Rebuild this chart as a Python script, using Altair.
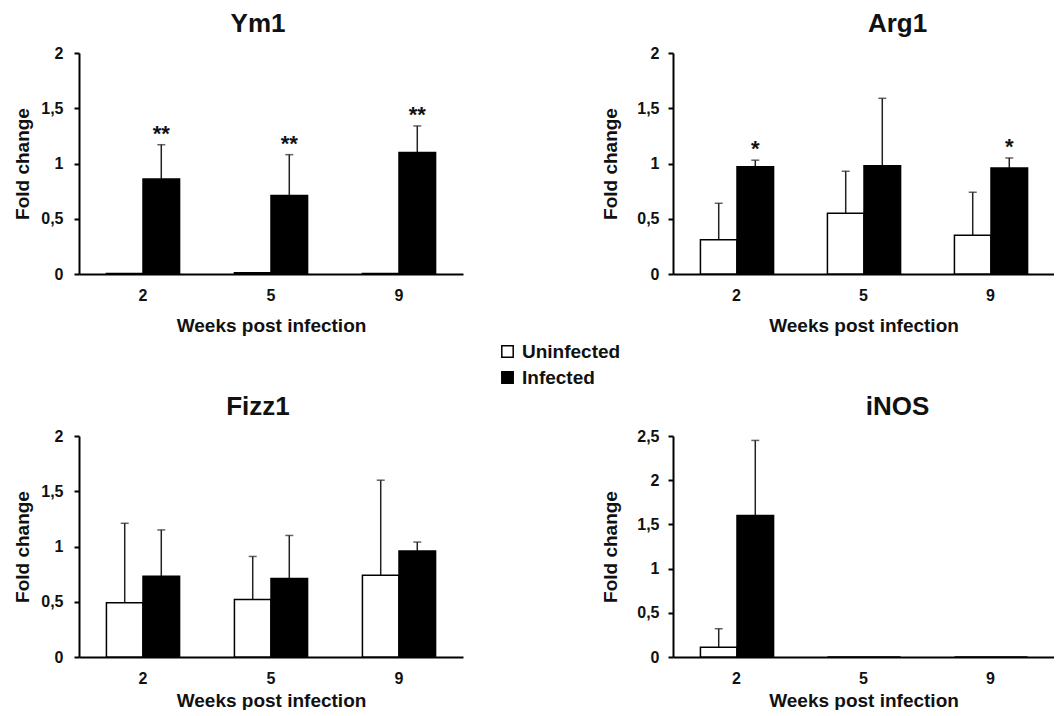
import altair as alt
import pandas as pd

FONT = "Liberation Sans"

weeks = ["2", "5", "9"]
groups = ["Uninfected", "Infected"]

ym1_uninf = [0.005, 0.012, 0.004]
ym1_uninf_err = [0.0, 0.0, 0.0]
ym1_inf = [0.86, 0.71, 1.10]
ym1_inf_err = [0.31, 0.37, 0.24]
ym1_sig = ["**", "**", "**"]

arg1_uninf = [0.31, 0.55, 0.35]
arg1_uninf_err = [0.33, 0.38, 0.39]
arg1_inf = [0.97, 0.98, 0.96]
arg1_inf_err = [0.06, 0.61, 0.09]
arg1_sig = ["*", "", "*"]

fizz1_uninf = [0.49, 0.52, 0.74]
fizz1_uninf_err = [0.72, 0.39, 0.86]
fizz1_inf = [0.73, 0.71, 0.96]
fizz1_inf_err = [0.42, 0.39, 0.08]
fizz1_sig = ["", "", ""]

inos_uninf = [0.11, 0.0, 0.0]
inos_uninf_err = [0.21, 0.0, 0.0]
inos_inf = [1.60, 0.0, 0.0]
inos_inf_err = [0.85, 0.0, 0.0]
inos_sig = ["", "", ""]

ticks_2 = [0, 0.5, 1, 1.5, 2]
ticks_25 = [0, 0.5, 1, 1.5, 2, 2.5]

legend = alt.Legend(
    title=None, orient="none", legendX=419, legendY=289,
    symbolType="square", symbolSize=130, symbolStrokeColor="black",
    symbolStrokeWidth=1.5, labelFont=FONT, labelFontSize=19,
    labelFontWeight="bold", labelColor="#111", rowPadding=6, labelOffset=5,
)


def panel(name, uninf, uninf_err, inf, inf_err, sig, ymax, yticks, width,
          title_dx, lab_pad, title_pad, x_title_pad):
    rows = []
    for i, w in enumerate(weeks):
        rows.append(dict(week=w, group="Uninfected", value=uninf[i],
                         err=uninf_err[i], sig=""))
        rows.append(dict(week=w, group="Infected", value=inf[i],
                         err=inf_err[i], sig=sig[i]))
    df = pd.DataFrame(rows)
    base = alt.Chart(df).transform_calculate(top="datum.value + datum.err")
    x = alt.X("week:N", scale=alt.Scale(domain=weeks, paddingInner=0, paddingOuter=0),
              axis=alt.Axis(title="Weeks post infection", labelAngle=0, ticks=False,
                            labelPadding=13, titlePadding=x_title_pad))
    xo = alt.XOffset("group:N", scale=alt.Scale(domain=groups, paddingInner=0,
                                                 paddingOuter=0.75))
    yscale = alt.Scale(domain=[0, ymax], nice=False)
    y = alt.Y("value:Q", scale=yscale,
              axis=alt.Axis(values=yticks, title="Fold change", tickSize=5,
                            labelExpr="replace(toString(datum.value), '.', ',')",
                            labelPadding=lab_pad, titlePadding=title_pad))
    fill = alt.Fill("group:N", scale=alt.Scale(domain=groups, range=["white", "black"]),
                    legend=legend)
    bars = base.mark_bar(stroke="black", strokeWidth=1.5).encode(x=x, xOffset=xo, y=y, fill=fill)
    eb = base.transform_filter("datum.err > 0")
    rules = eb.mark_rule(color="#222", strokeWidth=1.5).encode(
        x=x, xOffset=xo, y=alt.Y("value:Q", scale=yscale), y2="top:Q")
    caps = eb.mark_tick(color="#222", size=8, thickness=1.5, orient="horizontal").encode(
        x=x, xOffset=xo, y=alt.Y("top:Q", scale=yscale))
    stars = base.transform_filter("datum.sig != ''").mark_text(
        font=FONT, fontSize=22, fontWeight="bold", baseline="alphabetic", dy=-4,
        color="#111").encode(x=x, xOffset=xo, y=alt.Y("top:Q", scale=yscale), text="sig:N")
    return alt.layer(rules, caps, bars, stars).properties(
        width=width, height=221,
        title=alt.TitleParams(name, anchor="middle", dx=title_dx, offset=8))


p1 = panel("Ym1", ym1_uninf, ym1_uninf_err, ym1_inf, ym1_inf_err, ym1_sig,
           2, ticks_2, 384, -13, 11, 8, 13)
p2 = panel("Arg1", arg1_uninf, arg1_uninf_err, arg1_inf, arg1_inf_err, arg1_sig,
           2, ticks_2, 381, 34, 9, 16, 13)
p3 = panel("Fizz1", fizz1_uninf, fizz1_uninf_err, fizz1_inf, fizz1_inf_err, fizz1_sig,
           2, ticks_2, 384, -13, 11, 8, 5)
p4 = panel("iNOS", inos_uninf, inos_uninf_err, inos_inf, inos_inf_err, inos_sig,
           2.5, ticks_25, 381, 34, 9, 16, 5)

chart = alt.concat(
    p1, p2, p3, p4, columns=2, spacing={"row": 162, "column": 210},
    bounds="flush", align="each",
).properties(
    padding={"left": 5, "top": 3, "right": 0, "bottom": 0},
    background="white",
).configure_view(stroke=None).configure_axis(
    labelFont=FONT, labelFontSize=16, labelFontWeight="bold", labelColor="#111",
    titleFont=FONT, titleFontSize=19, titleFontWeight="bold", titleColor="#111",
    domainColor="black", domainWidth=2, tickColor="black", tickWidth=2, grid=False,
).configure_title(
    font=FONT, fontSize=26, fontWeight="bold", color="#111",
)

chart.save("out.html", embed_options={"renderer": "svg", "actions": False})
